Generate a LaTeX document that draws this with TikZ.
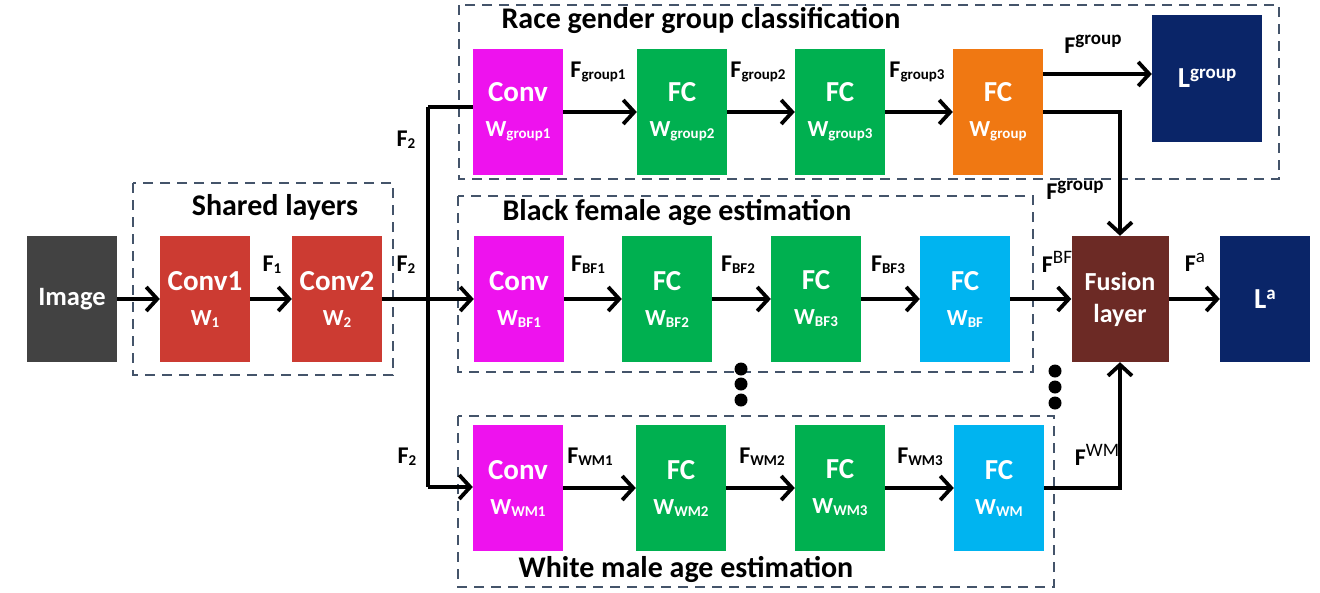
\documentclass[tikz,border=0pt]{standalone}
\usepackage{fontspec}
\setmainfont{Carlito}
\usetikzlibrary{arrows.meta}
\definecolor{imgc}{HTML}{424242}
\definecolor{redc}{HTML}{CC3B32}
\definecolor{magc}{HTML}{EE12EE}
\definecolor{greenc}{HTML}{00B050}
\definecolor{orangec}{HTML}{F07812}
\definecolor{cyanc}{HTML}{00B4F0}
\definecolor{navyc}{HTML}{0A2568}
\definecolor{brownc}{HTML}{6C2A25}
\definecolor{dashc}{HTML}{44546A}
\newcommand{\sbs}[1]{\raisebox{-2pt}{\fontsize{15}{15}\selectfont #1}}
\newcommand{\sps}[1]{\raisebox{9pt}{\fontsize{19}{19}\selectfont #1}}
\newcommand{\wl}[1]{{\fontsize{23}{24}\selectfont W\sbs{#1}}}
\tikzset{
  blk/.style={minimum width=90pt, minimum height=126pt, inner sep=0pt, text=white,
    font=\bfseries\fontsize{29}{35}\selectfont, align=center, draw=none},
  grp/.style={draw=dashc, line width=2.5pt, dash pattern=on 10pt off 7pt},
  ttl/.style={font=\bfseries\fontsize{30}{32}\selectfont, text=black},
  lbl/.style={font=\bfseries\fontsize{24}{26}\selectfont, text=black, inner sep=0pt},
  ln/.style={line width=3.8pt, black},
  arr/.style={ln, -{Straight Barb[length=11pt, width=24pt, line width=3.8pt]}},
  dotc/.style={fill=black, draw=none}
}
\begin{document}
\begin{tikzpicture}[x=1pt, y=-1pt]
\useasboundingbox (0,0) rectangle (1320,592);
% group boxes
\draw[grp] (133,183) rectangle (393,375);
\draw[grp] (459,5) rectangle (1279,179);
\draw[grp] (458,196) rectangle (1033,372);
\draw[grp] (458,416) rectangle (1054,587);
% titles
\node[ttl] (tsh) at (275,207) {Shared layers};
\node[ttl] (tgr) at (701,20) {Race gender group classification};
\node[ttl] (tbf) at (677,212) {Black female age estimation};
\node[ttl] (twm) at (686,569) {White male age estimation};
% shared
\node[blk, fill=imgc, font=\bfseries\fontsize{26.5}{30}\selectfont] (img) at (72,299) {Image};
\node[blk, fill=redc] (c1) at (205,299) {Conv1\\\wl{1}};
\node[blk, fill=redc] (c2) at (337,299) {Conv2\\\wl{2}};
% group row
\node[blk, fill=magc] (g1) at (518,112) {Conv\\\wl{group1}};
\node[blk, fill=greenc] (g2) at (682,112) {FC\\\wl{group2}};
\node[blk, fill=greenc] (g3) at (840,112) {FC\\\wl{group3}};
\node[blk, fill=orangec] (gf) at (998,112) {FC\\\wl{group}};
\node[blk, fill=navyc, minimum width=110pt, minimum height=127pt] (lg) at (1207,78) {L\sps{group}};
% BF row
\node[blk, fill=magc] (b1) at (519,299) {Conv\\\wl{BF1}};
\node[blk, fill=greenc] (b2) at (667,299) {FC\\\wl{BF2}};
\node[blk, fill=greenc] (b3) at (816,299) {FC\\\wl{BF3}};
\node[blk, fill=cyanc] (b4) at (965,299) {FC\\\wl{BF}};
% WM row
\node[blk, fill=magc] (w1) at (518,488) {Conv\\\wl{WM1}};
\node[blk, fill=greenc] (w2) at (681,488) {FC\\\wl{WM2}};
\node[blk, fill=greenc] (w3) at (840,488) {FC\\\wl{WM3}};
\node[blk, fill=cyanc] (w4) at (999,488) {FC\\\wl{WM}};
% fusion and loss
\node[blk, fill=brownc, minimum width=97pt, font=\bfseries\fontsize{26}{32}\selectfont] (fu) at (1120,299) {Fusion\\layer};
\node[blk, fill=navyc] (la) at (1265,299) {L\sps{a}};
% connectors
\coordinate (jt) at (428,107);
\coordinate (jb) at (428,487);
\draw[arr] (img) -- (c1);
\draw[arr] (c1) -- (c2);
\draw[arr] (c2) -- (b1);
\draw[ln] (jt) -- (jb);
\draw[ln] (jt) -- (jt -| g1.west);
\draw[arr] (jb) -- (jb -| w1.west);
\draw[arr] (g1) -- (g2);
\draw[arr] (g2) -- (g3);
\draw[arr] (g3) -- (gf);
\draw[arr] ([yshift=38pt]gf.east) -- ([yshift=38pt]gf.east -| lg.west);
\draw[arr] (gf.east) -| (fu.north);
\draw[arr] (b1) -- (b2);
\draw[arr] (b2) -- (b3);
\draw[arr] (b3) -- (b4);
\draw[arr] (b4) -- (fu);
\draw[arr] (w1) -- (w2);
\draw[arr] (w2) -- (w3);
\draw[arr] (w3) -- (w4);
\draw[arr] (w4.east) -| (fu.south);
\draw[arr] (fu) -- (la);
% labels
\node[lbl] (lf1) at (272,265) {F\sbs{1}};
\node[lbl] (lf2) at (406,265) {F\sbs{2}};
\node[lbl] (lf2t) at (406,140) {F\sbs{2}};
\node[lbl] (lf2b) at (407,457) {F\sbs{2}};
\node[lbl] (lg1) at (598,72) {F\sbs{group1}};
\node[lbl] (lg2) at (758,72) {F\sbs{group2}};
\node[lbl] (lg3) at (917,72) {F\sbs{group3}};
\node[lbl] (lgs) at (1093,44) {F\sps{group}};
\node[lbl] (lgs2) at (1075,190) {F\sps{group}};
\node[lbl] (lb1) at (588,265) {F\sbs{BF1}};
\node[lbl] (lb2) at (738,265) {F\sbs{BF2}};
\node[lbl] (lb3) at (888,265) {F\sbs{BF3}};
\node[lbl] (lbs) at (1057,262) {F\sps{\mdseries BF}};
\node[lbl] (lfa) at (1195,262) {F\sps{\mdseries a}};
\node[lbl] (lw1) at (590,457) {F\sbs{WM1}};
\node[lbl] (lw2) at (762,457) {F\sbs{WM2}};
\node[lbl] (lw3) at (920,457) {F\sbs{WM3}};
\node[lbl] (lws) at (1097,455) {F\sps{\mdseries WM}};
% dots
\foreach \yy in {369,384,400} \fill[dotc] (741,\yy) circle (6.5pt);
\foreach \yy in {371,387,403} \fill[dotc] (1055,\yy) circle (6.5pt);
\end{tikzpicture}
\end{document}
